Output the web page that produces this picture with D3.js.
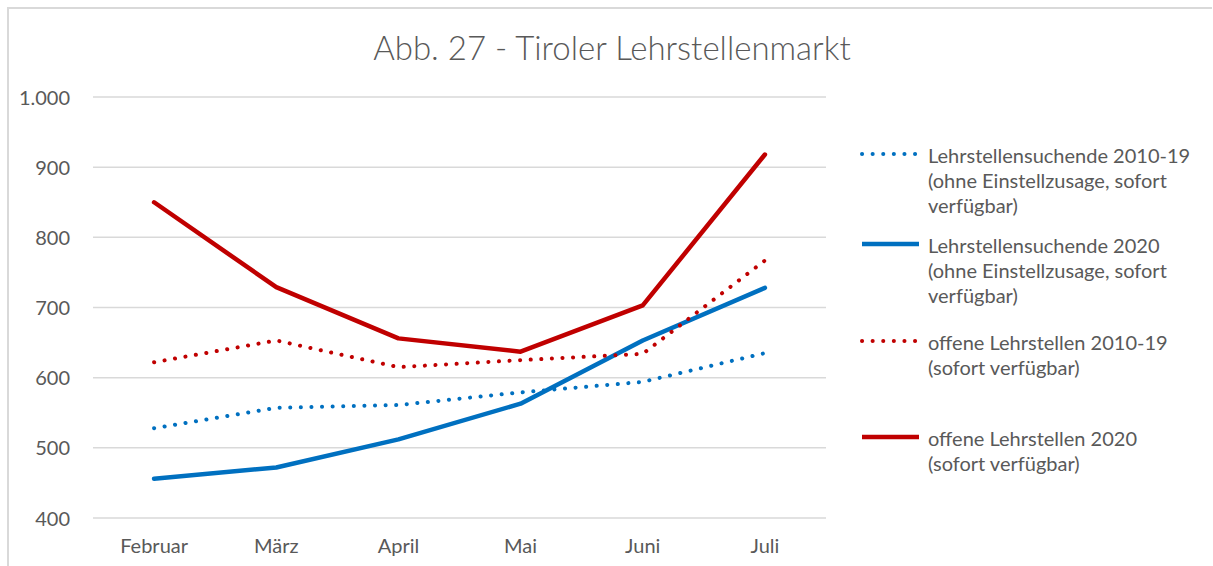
<!DOCTYPE html>
<html>
<head>
<meta charset="utf-8">
<script src="https://cdn.jsdelivr.net/npm/d3@7"></script>
<style>
  body { margin: 0; background: #fff; }
  svg { display: block; font-family: Lato, "Open Sans", sans-serif; }
</style>
</head>
<body>
<div id="chart"></div>
<script>

//Data
var months = ["Februar", "März", "April", "Mai", "Juni", "Juli"];
var suchende1019 = [528, 557, 561, 579, 594, 635];
var suchende2020 = [456, 472, 512, 563, 653, 728];
var offene1019 = [622, 653, 615, 625, 634, 767];
var offene2020 = [850, 729, 656, 637, 703, 918];
var yTicks = [400, 500, 600, 700, 800, 900, 1000];

var series = [
    {name: ["Lehrstellensuchende 2010-19", "(ohne Einstellzusage, sofort", "verfügbar)"], values: suchende1019, color: "#0070C0", dotted: true},
    {name: ["Lehrstellensuchende 2020", "(ohne Einstellzusage, sofort", "verfügbar)"], values: suchende2020, color: "#0070C0", dotted: false},
    {name: ["offene Lehrstellen 2010-19", "(sofort verfügbar)"], values: offene1019, color: "#C00000", dotted: true},
    {name: ["offene Lehrstellen 2020", "(sofort verfügbar)"], values: offene2020, color: "#C00000", dotted: false}
];


//**************************************************************************
//** Setup
//**************************************************************************
var width = 1213, height = 566;
var plot = {left: 93, right: 826, top: 97, bottom: 518};
var fontSize = "20px";

var svg = d3.select("#chart").append("svg")
    .attr("width", width)
    .attr("height", height);

//Frame
svg.append("path")
    .attr("d", "M8,566V8H1212")
    .style("fill", "none")
    .style("stroke", "#d9d9d9")
    .style("stroke-width", 2);

//Title
svg.append("text")
    .attr("x", 612)
    .attr("y", 60)
    .attr("text-anchor", "middle")
    .style("font-size", "33px")
    .style("font-weight", 300)
    .style("fill", "#595959")
    .text("Abb. 27 - Tiroler Lehrstellenmarkt");


//Scales
var x = d3.scaleBand()
    .domain(months)
    .range([plot.left, plot.right]);

var y = d3.scaleLinear()
    .domain([400, 1000])
    .range([plot.bottom, plot.top]);


//Grid lines
svg.append("g")
    .selectAll("line")
    .data(yTicks)
    .enter().append("line")
    .attr("x1", plot.left)
    .attr("x2", plot.right)
    .attr("y1", function(d){ return y(d); })
    .attr("y2", function(d){ return y(d); })
    .style("stroke", "#d9d9d9")
    .style("stroke-width", 1.5);


//Y axis labels
var yAxis = svg.append("g")
    .attr("transform", "translate(" + (plot.left - 20) + ",0)")
    .call(d3.axisLeft(y)
        .tickValues(yTicks)
        .tickSize(0)
        .tickFormat(function(d){ return d3.format(",")(d).replace(",", "."); }));
yAxis.select(".domain").remove();
yAxis.selectAll("text")
    .attr("dy", "0.35em")
    .style("font-family", "Lato, 'Open Sans', sans-serif")
    .style("font-size", fontSize)
    .style("fill", "#595959");


//X axis labels
var xAxis = svg.append("g")
    .attr("transform", "translate(0," + (plot.bottom + 18) + ")")
    .call(d3.axisBottom(x).tickSize(0));
xAxis.select(".domain").remove();
xAxis.selectAll("text")
    .attr("dy", "0.71em")
    .style("font-family", "Lato, 'Open Sans', sans-serif")
    .style("font-size", fontSize)
    .style("fill", "#595959");


//Lines
var line = d3.line()
    .x(function(d, i){ return x(months[i]) + x.bandwidth()/2; })
    .y(function(d){ return y(d); });

var applyStyle = function(sel, s){
    sel.style("fill", "none")
       .style("stroke", s.color)
       .style("stroke-linecap", "round")
       .style("stroke-linejoin", "round");
    if (s.dotted){
        sel.style("stroke-width", 4)
           .style("stroke-dasharray", "0.1 10.5");
    }
    else{
        sel.style("stroke-width", 4.5);
    }
};

series.forEach(function(s){
    var path = svg.append("path").attr("d", line(s.values));
    applyStyle(path, s);
});


//Legend
var legendTop = [154, 244, 341, 437];
var legend = svg.append("g");
series.forEach(function(s, i){
    var g = legend.append("g").attr("transform", "translate(0," + legendTop[i] + ")");
    var l = g.append("line")
        .attr("x1", 862)
        .attr("x2", 919)
        .attr("y1", 0)
        .attr("y2", 0);
    applyStyle(l, s);
    l.style("stroke-linecap", s.dotted ? "round" : "butt");

    s.name.forEach(function(t, j){
        g.append("text")
            .attr("x", 928)
            .attr("y", j*25 + 9)
            .style("font-size", fontSize)
            .style("fill", "#595959")
            .text(t);
    });
});

</script>
</body>
</html>
